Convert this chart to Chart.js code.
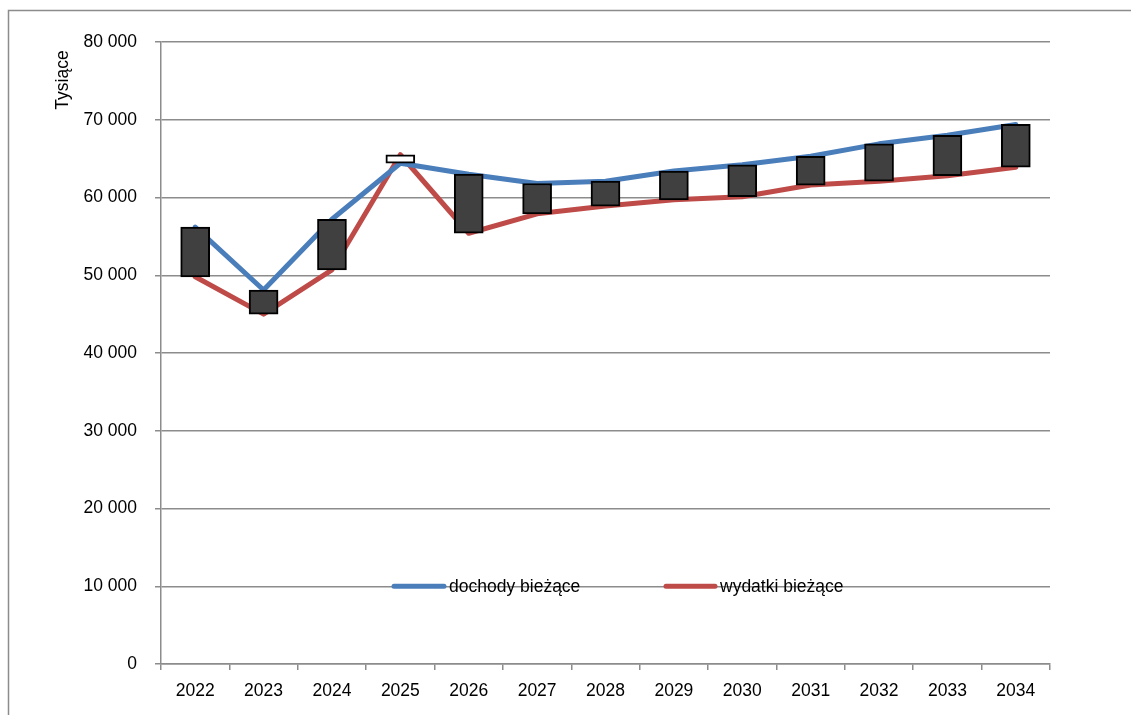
<!DOCTYPE html>
<html>
<head>
<meta charset="utf-8">
<script src="https://cdn.jsdelivr.net/npm/chart.js@4.4.1/dist/chart.umd.min.js"></script>
<style>
  html, body { margin: 0; padding: 0; background: #fff; }
  #wrap { width: 1131px; height: 715px; position: relative; }
</style>
</head>
<body>
<div id="wrap"><canvas id="c" width="1131" height="715"></canvas></div>
<script>
const years = ['2022','2023','2024','2025','2026','2027','2028','2029','2030','2031','2032','2033','2034'];
const dochody = [56200, 48100, 57200, 64400, 63000, 61800, 62100, 63400, 64200, 65300, 66900, 68000, 69400];
const wydatki = [49800, 45000, 50700, 65500, 55400, 57900, 58900, 59700, 60100, 61600, 62100, 62800, 63900];
const yTicks = [0, 10000, 20000, 30000, 40000, 50000, 60000, 70000, 80000];
const yTitle = 'Tysiące';
const labelDochody = 'dochody bieżące';
const labelWydatki = 'wydatki bieżące';

const FONT = '"Liberation Sans", Arial, sans-serif';
const FS = 17.5;
const GRID = '#8c8c8c';
const BLUE = '#4a7ebb';
const RED = '#be4b48';

const barData = dochody.map((d, i) => [Math.min(d, wydatki[i]), Math.max(d, wydatki[i])]);
const barFill = dochody.map((d, i) => d >= wydatki[i] ? '#404040' : '#ffffff');

function fmt(v) {
  return String(v).replace(/\B(?=(\d{3})+(?!\d))/g, ' ');
}

const framePlugin = {
  id: 'frame',
  beforeDraw(chart) {
    const ctx = chart.ctx;
    ctx.save();
    ctx.fillStyle = '#fff';
    ctx.fillRect(0, 0, chart.width, chart.height);
    ctx.strokeStyle = GRID;
    ctx.lineWidth = 1.5;
    ctx.beginPath();
    ctx.moveTo(8.5, 730);
    ctx.lineTo(8.5, 10.5);
    ctx.lineTo(1131, 10.5);
    ctx.stroke();
    ctx.restore();
  },
  afterDraw(chart) {
    const ctx = chart.ctx;
    ctx.save();
    ctx.translate(63, 80);
    ctx.rotate(-Math.PI / 2);
    ctx.font = FS + 'px ' + FONT;
    ctx.fillStyle = '#000';
    ctx.textAlign = 'center';
    ctx.textBaseline = 'middle';
    ctx.fillText(yTitle, 0, 0);
    ctx.restore();
  }
};

const legendPlugin = {
  id: 'inlineLegend',
  afterDatasetsDraw(chart) {
    const ctx = chart.ctx;
    const y = chart.scales.y.getPixelForValue(10000);
    const items = [
      { ds: chart.data.datasets[1], x0: 394, x1: 444, tx: 449 },
      { ds: chart.data.datasets[2], x0: 666, x1: 715, tx: 720 }
    ];
    ctx.save();
    items.forEach(it => {
      ctx.strokeStyle = it.ds.borderColor;
      ctx.lineWidth = 5;
      ctx.lineCap = 'round';
      ctx.beginPath();
      ctx.moveTo(it.x0, y);
      ctx.lineTo(it.x1, y);
      ctx.stroke();
      ctx.font = FS + 'px ' + FONT;
      ctx.fillStyle = '#000';
      ctx.textAlign = 'left';
      ctx.textBaseline = 'middle';
      ctx.fillText(it.ds.label, it.tx, y + 1);
    });
    ctx.restore();
  }
};

new Chart(document.getElementById('c'), {
  data: {
    labels: years,
    datasets: [
      {
        type: 'bar',
        label: 'różnica',
        data: barData,
        backgroundColor: barFill,
        borderColor: '#000',
        borderWidth: 2,
        borderSkipped: false,
        barThickness: 29,
        order: 0
      },
      {
        type: 'line',
        label: labelDochody,
        data: dochody,
        borderColor: BLUE,
        backgroundColor: BLUE,
        borderWidth: 5,
        pointRadius: 0,
        tension: 0,
        borderCapStyle: 'round',
        borderJoinStyle: 'round',
        order: 1
      },
      {
        type: 'line',
        label: labelWydatki,
        data: wydatki,
        borderColor: RED,
        backgroundColor: RED,
        borderWidth: 5,
        pointRadius: 0,
        tension: 0,
        borderCapStyle: 'round',
        borderJoinStyle: 'round',
        order: 2
      }
    ]
  },
  options: {
    responsive: false,
    animation: false,
    devicePixelRatio: 1,
    layout: { padding: { left: 0, right: 81, top: 42, bottom: 0 } },
    plugins: {
      legend: { display: false },
      tooltip: { enabled: false }
    },
    scales: {
      x: {
        type: 'category',
        offset: true,
        grid: {
          offset: true,
          drawOnChartArea: false,
          drawTicks: true,
          tickLength: 6,
          color: GRID,
          lineWidth: 1.5
        },
        border: { display: true, color: GRID, width: 1.5 },
        ticks: {
          color: '#000',
          font: { family: FONT, size: FS },
          padding: 11,
          maxRotation: 0,
          autoSkip: false
        },
        afterFit(s) { s.height = 51; }
      },
      y: {
        min: 0,
        max: 80000,
        afterBuildTicks(s) { s.ticks = yTicks.map(v => ({ value: v })); },
        grid: {
          color: GRID,
          lineWidth: 1.5,
          drawTicks: true,
          tickLength: 6
        },
        border: { display: true, color: GRID, width: 1.5 },
        ticks: {
          color: '#000',
          font: { family: FONT, size: FS },
          padding: 18,
          callback: v => fmt(v)
        },
        afterFit(s) { s.width = 161; }
      }
    }
  },
  plugins: [framePlugin, legendPlugin]
});
</script>
</body>
</html>
